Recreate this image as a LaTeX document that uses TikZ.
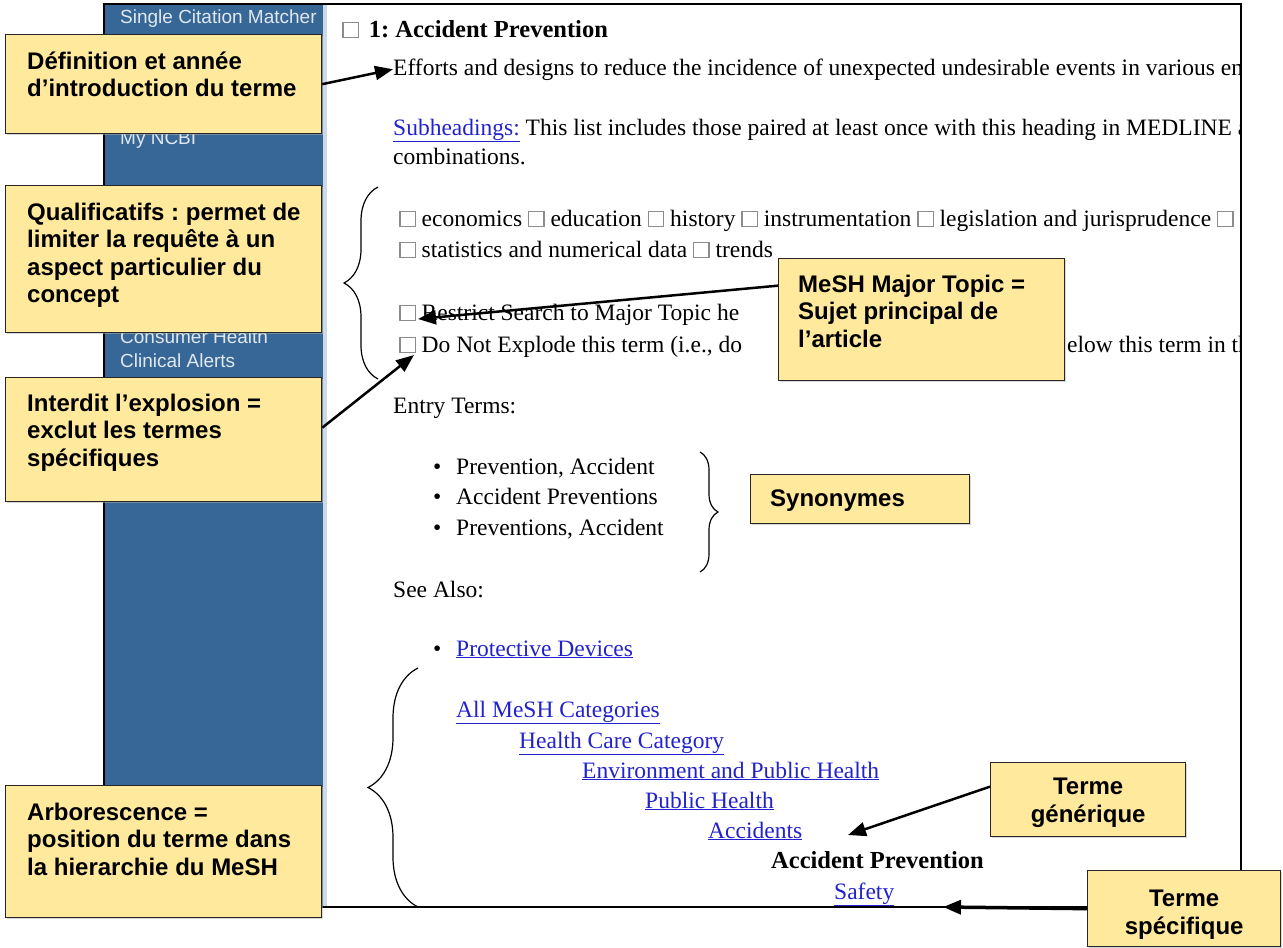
\documentclass[tikz,border=0pt]{standalone}
\usepackage{fontspec}
\setmainfont{Liberation Serif}
\newfontfamily\arialfont{Liberation Sans}
\usetikzlibrary{arrows.meta,decorations.pathreplacing,shadows}
\frenchspacing

\definecolor{notefill}{RGB}{255,233,157}
\definecolor{navblue}{RGB}{54,103,150}
\definecolor{navtext}{RGB}{225,232,240}
\definecolor{linkblue}{RGB}{34,34,204}
\definecolor{boxgray}{RGB}{140,140,140}

\newcommand{\cb}{{\color{boxgray}\setlength{\fboxsep}{0pt}\setlength{\fboxrule}{1.3pt}\fbox{\rule{0pt}{14pt}\rule{14pt}{0pt}}}}
\newcommand{\lnk}[1]{\textcolor{linkblue}{\underline{#1}}}
\newcommand{\itm}{\makebox[23pt][l]{•}}

\tikzset{
  notebox/.style={draw=black!85, line width=1.3pt, fill=notefill, anchor=north west, inner sep=0pt,
    drop shadow={shadow xshift=1.5pt, shadow yshift=-1.5pt, fill=black!30}},
  notetext/.style={anchor=north west, inner sep=0pt, align=left,
    font=\arialfont\bfseries\fontsize{24}{27.6}\selectfont},
  page/.style={anchor=base west, inner sep=0pt, font=\fontsize{23.5}{30}\selectfont},
  pagebold/.style={page, font=\bfseries\fontsize{24.5}{30}\selectfont},
  nav/.style={anchor=base west, inner sep=0pt, text=navtext, font=\arialfont\fontsize{19}{23}\selectfont},
  callout/.style={-{Triangle[length=18pt,width=14pt]}, line width=2.5pt},
  curly/.style={decorate, decoration={brace, amplitude=#1}, line width=1.2pt},
}

\begin{document}
\begin{tikzpicture}[x=1pt,y=-1pt]
  \useasboundingbox (0,0) rectangle (1283,948);

  % NCBI side bar and page frame
  \fill[navblue] (104,4) rectangle (323,907);
  \fill[navblue!25] (323,4) rectangle (327,907);
  \draw[line width=2pt] (104,4) rectangle (1241,907);

  \node[nav] (nav1) at (120,23) {Single Citation Matcher};
  \node[nav] (nav2) at (120,144) {My NCBI};
  \node[nav] (nav3) at (120,343) {Consumer Health};
  \node[nav] (nav4) at (120,367) {Clinical Alerts};

  % MeSH record
  \begin{scope}
    \clip (327,6) rectangle (1239,905);
    \node[pagebold] (title) at (342,37) {{\mdseries\cb}\hspace{10pt}1: Accident Prevention};
    \node[page] (efforts) at (393,75) {Efforts and designs to reduce the incidence of unexpected undesirable events in various en};
    \node[page] (subhead) at (393,135) {\lnk{Subheadings:} This list includes those paired at least once with this heading in MEDLINE a};
    \node[page] (combi) at (393,164) {combinations.};
    \node[page] (quals) at (399,226) {\cb\ economics \cb\ education \cb\ history \cb\ instrumentation \cb\ legislation and jurisprudence \cb};
    \node[page] (stats) at (399,257) {\cb\ statistics and numerical data \cb\ trends};
    \node[page] (major) at (399,320) {\cb\ Restrict Search to Major Topic he};
    \node[page] (noexp) at (399,352) {\cb\ Do Not Explode this term (i.e., do};
    \node[page] (noexpb) at (1067,352) {elow this term in th};
    \node[page] (entry) at (393,413) {Entry Terms:};
    \node[page] (syn1) at (433,474) {\itm Prevention, Accident};
    \node[page] (syn2) at (433,504) {\itm Accident Preventions};
    \node[page] (syn3) at (433,535) {\itm Preventions, Accident};
    \node[page] (seealso) at (393,597) {See Also:};
    \node[page] (protect) at (433,656) {\itm\lnk{Protective Devices}};
    \node[page] (tree1) at (456,717) {\lnk{All MeSH Categories}};
    \node[page] (tree2) at (519,748) {\lnk{Health Care Category}};
    \node[page] (tree3) at (582,778) {\lnk{Environment and Public Health}};
    \node[page] (tree4) at (645,808) {\lnk{Public Health}};
    \node[page] (tree5) at (708,838) {\lnk{Accidents}};
    \node[pagebold] (tree6) at (771,868) {Accident Prevention};
    \node[page] (tree7) at (834,899) {\lnk{Safety}};
  \end{scope}

  % braces
  \draw[curly=34] (378,379) -- (378,187);
  \draw[curly=18] (700,452) -- (700,572);
  \draw[curly=50] (418,907) -- (418,668);

  % notes
  \node[notebox, minimum width=316pt, minimum height=99pt] (defbox) at (5,34) {};
  \node[notetext] (deftext) at ([xshift=22pt,yshift=-15.5pt]defbox.north west) {\strut Définition et année\\d’introduction du terme};

  \node[notebox, minimum width=316pt, minimum height=147pt] (qualbox) at (5,185) {};
  \node[notetext] (qualtext) at ([xshift=22pt,yshift=-15.5pt]qualbox.north west) {\strut Qualificatifs : permet de\\limiter la requête à un\\aspect particulier du\\concept};

  \node[notebox, minimum width=316pt, minimum height=124pt] (explbox) at (5,377) {};
  \node[notetext] (expltext) at ([xshift=22pt,yshift=-14.5pt]explbox.north west) {\strut Interdit l’explosion =\\exclut les termes\\spécifiques};

  \node[notebox, minimum width=286pt, minimum height=122pt] (majbox) at (778,258) {};
  \node[notetext] (majtext) at ([xshift=20pt,yshift=-14.5pt]majbox.north west) {\strut MeSH Major Topic =\\Sujet principal de\\l’article};

  \node[notebox, minimum width=219pt, minimum height=49pt] (synbox) at (750,474) {};
  \node[notetext] (syntext) at ([xshift=20pt,yshift=-13.3pt]synbox.north west) {\strut Synonymes};

  \node[notebox, minimum width=195pt, minimum height=74pt] (genbox) at (990,762) {};
  \node[notetext, anchor=north, align=center] (gentext) at ([yshift=-13.3pt]genbox.north) {\strut Terme\\générique};

  \node[notebox, minimum width=193pt, minimum height=76pt] (specbox) at (1087,870) {};
  \node[notetext, anchor=north, align=center] (spectext) at ([yshift=-17.3pt]specbox.north) {\strut Terme\\spécifique};

  \node[notebox, minimum width=316pt, minimum height=132pt] (treebox) at (5,785) {};
  \node[notetext] (treetext) at ([xshift=22pt,yshift=-15.5pt]treebox.north west) {\strut Arborescence =\\position du terme dans\\la hierarchie du MeSH};

  % arrows
  \coordinate (majtip) at (418,319);
  \coordinate (expltip) at (414,355);
  \coordinate (gentip) at (848,835);
  \coordinate (spectip) at (943,907);
  \draw[callout] (defbox.east) -- (efforts.west);
  \draw[callout] ([yshift=34pt]majbox.west) -- (majtip);
  \draw[callout] ([yshift=12pt]explbox.east) -- (expltip);
  \draw[callout] ([yshift=13pt]genbox.west) -- (gentip);
  \draw[callout, line width=3.5pt] (specbox.west) -- (spectip);
\end{tikzpicture}
\end{document}
